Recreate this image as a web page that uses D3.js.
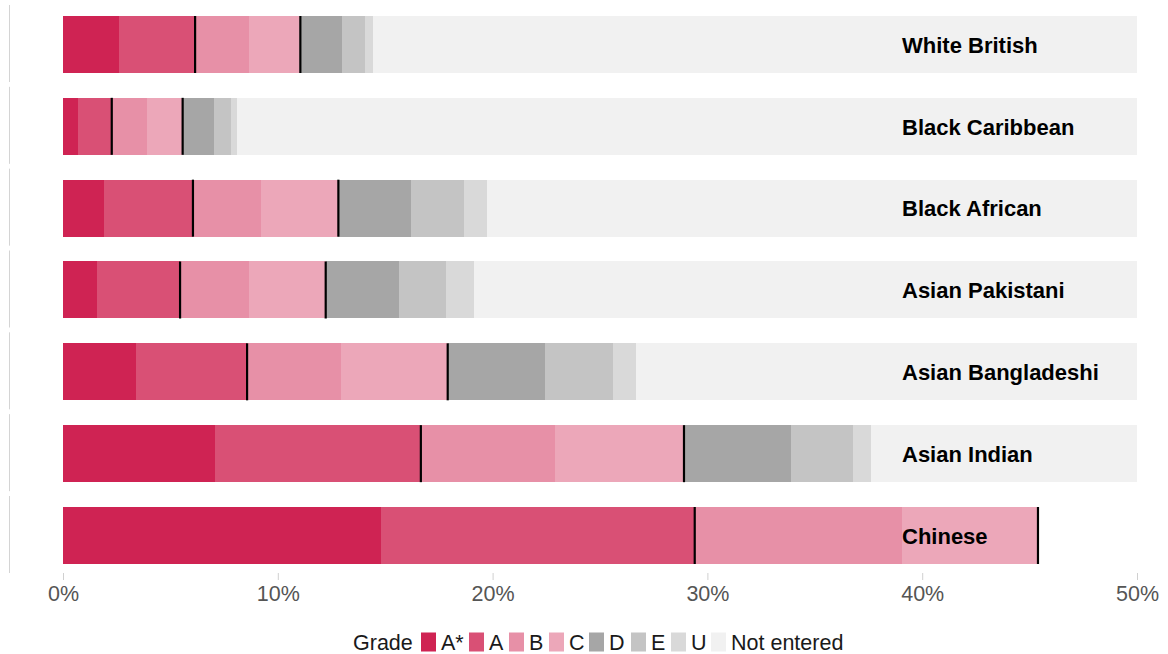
<!DOCTYPE html>
<html>
<head>
<meta charset="utf-8">
<script src="https://cdn.jsdelivr.net/npm/d3@7"></script>
<style>
  html, body { margin: 0; padding: 0; background: #ffffff; }
  svg { display: block; font-family: "Liberation Sans", Arial, sans-serif; }
</style>
</head>
<body>
<svg id="chart" width="1168" height="654"></svg>
<script>
// Share of pupils achieving each A-level grade in maths, by ethnic group (%)
const groups = ["White British", "Black Caribbean", "Black African", "Asian Pakistani",
                "Asian Bangladeshi", "Asian Indian", "Chinese"];
const grades = ["A*", "A", "B", "C", "D", "E", "U", "Not entered"];

const gradeAStar = [2.63, 0.71, 1.91, 1.57, 3.38, 7.09, 14.80];
const gradeA     = [3.52, 1.56, 4.14, 3.88, 5.19, 9.57, 14.61];
const gradeB     = [2.53, 1.63, 3.15, 3.22, 4.39, 6.26, 9.65];
const gradeC     = [2.37, 1.67, 3.62, 3.56, 4.95, 5.99, 6.33];
const gradeD     = [1.92, 1.47, 3.37, 3.41, 4.54, 4.97, null];
const gradeE     = [1.11, 0.78, 2.48, 2.18, 3.15, 2.91, null];
const gradeU     = [0.36, 0.27, 1.05, 1.31, 1.08, 0.84, null];
const notEntered = [85.56, 91.91, 80.28, 80.87, 73.32, 62.37, null];

const xTicks = [0, 10, 20, 30, 40, 50];

const colours = ["#cf2353", "#d95075", "#e790a7", "#eca7b9",
                 "#a6a6a6", "#c4c4c4", "#d9d9d9", "#f1f1f1"];

const seriesValues = [gradeAStar, gradeA, gradeB, gradeC, gradeD, gradeE, gradeU, notEntered];

// Build stacked segments per group
const rows = groups.map((g, i) => {
  let cum = 0;
  const segs = [];
  grades.forEach((gr, k) => {
    const v = seriesValues[k][i];
    if (v == null) return;
    segs.push({ group: g, grade: gr, k, x0: cum, x1: cum + v });
    cum += v;
  });
  return { group: g, segs };
});

const svg = d3.select("#chart");

const x = d3.scaleLinear().domain([0, 50]).range([63, 1137]);
const y = d3.scaleBand().domain(groups).range([5, 573]).paddingInner(0.059);
const colour = d3.scaleOrdinal().domain(grades).range(colours);

const barInset = 11;
const barH = 57;

svg.append("defs").append("clipPath").attr("id", "plotClip")
  .append("rect").attr("x", x(0)).attr("y", 0).attr("width", x(50) - x(0)).attr("height", 654);

// Panel left edges
svg.append("g").selectAll("line").data(groups).join("line")
  .attr("x1", 9.5).attr("x2", 9.5)
  .attr("y1", d => y(d)).attr("y2", d => y(d) + y.bandwidth())
  .attr("stroke", "#d4d4d4").attr("stroke-width", 1);

const plot = svg.append("g").attr("clip-path", "url(#plotClip)");

const rowG = plot.selectAll("g.row").data(rows).join("g").attr("class", "row");

rowG.selectAll("rect").data(d => d.segs).join("rect")
  .attr("x", d => x(d.x0))
  .attr("width", d => Math.max(0, x(d.x1) - x(d.x0)))
  .attr("y", d => y(d.group) + barInset)
  .attr("height", barH)
  .attr("fill", d => colour(d.grade))
  .attr("shape-rendering", "crispEdges");

// Thresholds: A*-A and A*-C
rowG.selectAll("line.thr").data(d => d.segs.filter(s => s.grade === "A" || s.grade === "C")).join("line")
  .attr("class", "thr")
  .attr("x1", d => x(d.x1)).attr("x2", d => x(d.x1))
  .attr("y1", d => y(d.group) + barInset)
  .attr("y2", d => y(d.group) + barInset + barH)
  .attr("stroke", "#000").attr("stroke-width", 2.2);

// Group labels
svg.append("g").selectAll("text").data(groups).join("text")
  .attr("x", 902)
  .attr("y", d => y(d) + barInset + barH / 2 + 0.5)
  .attr("dy", "0.35em")
  .attr("font-size", 22)
  .attr("font-weight", "bold")
  .attr("fill", "#000")
  .text(d => d);

// X axis
const xAxis = d3.axisBottom(x).tickValues(xTicks).tickFormat(d => d + "%").tickSize(7).tickPadding(6);
const ax = svg.append("g").attr("transform", "translate(0,573)").call(xAxis);
ax.select(".domain").remove();
ax.selectAll(".tick line").attr("stroke", "#d0d0d0");
ax.selectAll(".tick text")
  .attr("font-size", 21.5)
  .attr("fill", "#555555")
  .attr("font-family", "'Liberation Sans', Arial, sans-serif");

// Legend
const legend = svg.append("g");
const legendY = 642;
legend.append("text").attr("x", 353).attr("y", legendY).attr("dy", "0.35em")
  .attr("font-size", 21.5).attr("fill", "#1a1a1a").text("Grade");
const legendX = [421, 469, 509, 549, 589, 631, 671, 711];
grades.forEach((g, k) => {
  legend.append("rect").attr("x", legendX[k]).attr("y", legendY - 9.5)
    .attr("width", 15).attr("height", 19).attr("fill", colour(g));
  legend.append("text").attr("x", legendX[k] + 20).attr("y", legendY).attr("dy", "0.35em")
    .attr("font-size", 21.5).attr("fill", "#1a1a1a").text(g);
});
</script>
</body>
</html>
